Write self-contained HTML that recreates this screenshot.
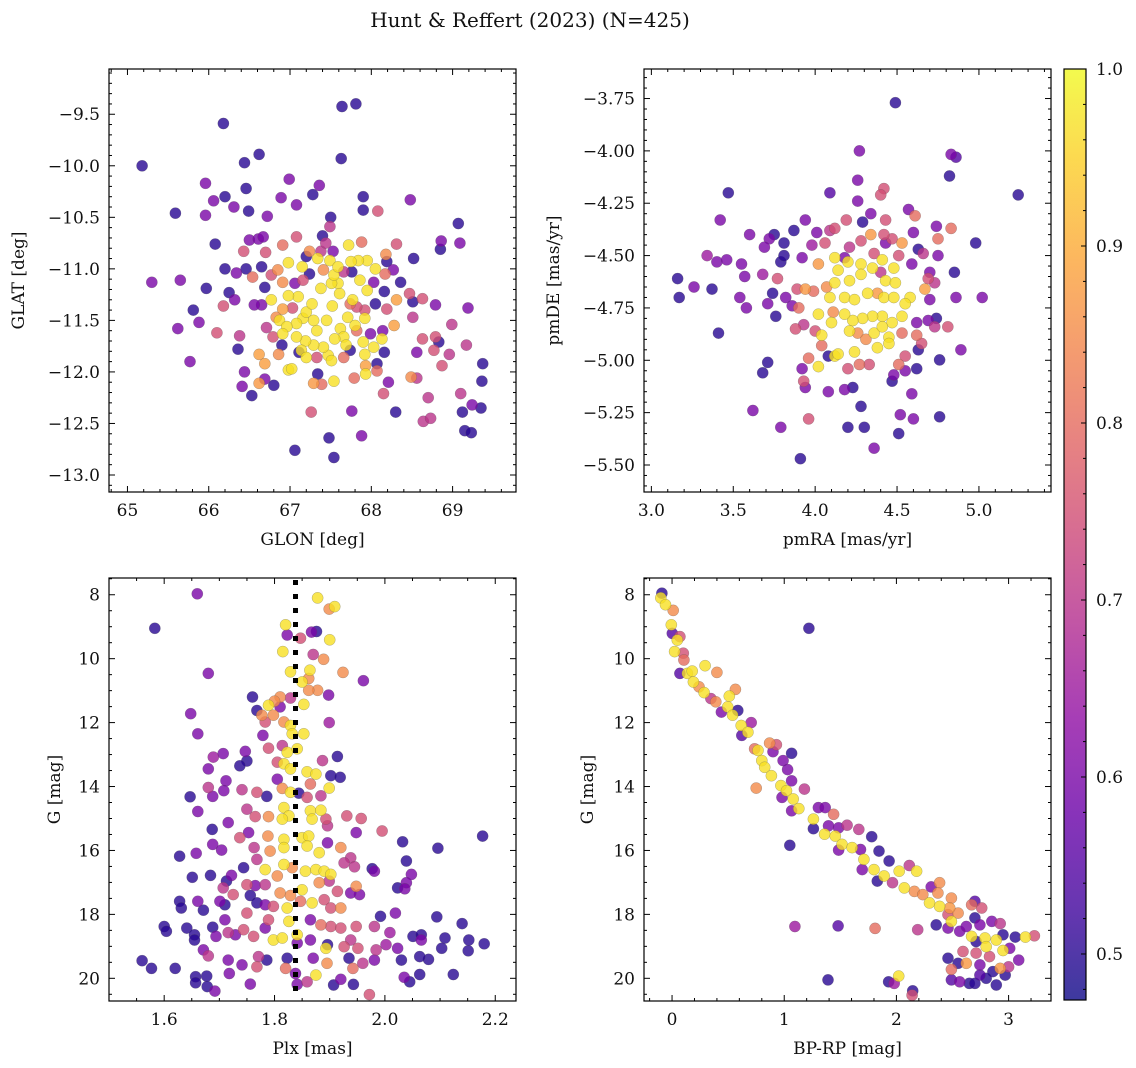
<!DOCTYPE html>
<html><head><meta charset="utf-8"><title>Hunt & Reffert (2023)</title>
<style>
html,body{margin:0;padding:0;background:#fff;}
svg{display:block;font-family:"DejaVu Serif","Liberation Serif",serif;}
</style></head>
<body>
<svg id="fig" width="1136" height="1068" viewBox="0 0 1136 1068" xmlns="http://www.w3.org/2000/svg">
<defs>
<linearGradient id="cgrad" x1="0" y1="1" x2="0" y2="0"></linearGradient>
</defs>
<text x="530" y="27" text-anchor="middle" font-size="20" fill="#111">Hunt &amp; Reffert (2023) (N=425)</text>
</svg>
<script>
// ---------- data (each array: [x, y, membership probability]) ----------
const panel1Points = [
[65.18,-10.00,0.5],[66.18,-9.59,0.5],[67.64,-9.425,0.5],[67.81,-9.40,0.5],[66.44,-9.97,0.5],[66.62,-9.89,0.5],[67.63,-9.93,0.5],
[65.96,-10.17,0.6],[66.99,-10.13,0.6],[67.36,-10.19,0.6],[66.46,-10.22,0.5],[66.20,-10.30,0.5],[66.06,-10.34,0.6],[66.89,-10.31,0.6],
[67.28,-10.28,0.5],[67.90,-10.30,0.5],[68.48,-10.33,0.6],[65.59,-10.46,0.5],[65.96,-10.48,0.6],[66.31,-10.40,0.6],[66.49,-10.44,0.5],
[66.72,-10.49,0.6],[67.08,-10.38,0.6],[67.90,-10.43,0.5],[68.08,-10.44,0.75],[69.07,-10.56,0.5],[67.50,-10.50,0.5],[66.08,-10.76,0.5],
[68.85,-10.81,0.5],[69.09,-10.75,0.6],[68.86,-10.73,0.6],[68.52,-10.90,0.5],[68.31,-10.76,0.75],[67.88,-10.74,0.8],[67.72,-10.77,0.97],
[65.30,-11.13,0.6],[65.65,-11.11,0.6],[65.97,-11.19,0.5],[66.20,-11.00,0.5],[65.81,-11.40,0.5],[65.88,-11.52,0.6],[65.62,-11.58,0.6],
[65.77,-11.90,0.6],[66.10,-11.62,0.75],[66.18,-11.36,0.75],[66.25,-11.23,0.5],[66.32,-11.30,0.6],[66.46,-11.00,0.5],[66.65,-10.98,0.5],
[66.69,-11.18,0.5],[66.43,-10.83,0.75],[66.50,-10.72,0.6],[66.61,-10.71,0.6],[66.70,-10.84,0.75],[66.91,-10.77,0.8],[67.08,-10.69,0.75],
[67.40,-10.68,0.5],[67.49,-10.59,0.7],[66.36,-11.78,0.5],[66.38,-11.65,0.7],[66.44,-12.00,0.6],[66.41,-12.14,0.6],[66.53,-12.23,0.5],
[66.62,-11.83,0.88],[66.69,-11.92,0.88],[66.62,-12.11,0.87],[66.80,-12.13,0.5],[66.69,-12.07,0.6],[66.98,-11.98,0.97],[67.02,-11.97,0.97],
[67.26,-12.39,0.75],[67.06,-12.76,0.5],[67.48,-12.64,0.5],[67.54,-12.83,0.5],[67.76,-12.38,0.6],[67.88,-12.62,0.6],[68.30,-12.39,0.5],
[67.29,-12.11,0.87],[67.39,-12.12,0.8],[67.34,-12.02,0.5],[67.54,-12.09,0.97],[67.79,-12.06,0.8],[67.93,-12.02,0.97],[67.93,-11.94,0.88],
[68.07,-11.99,0.8],[68.15,-12.21,0.75],[68.21,-12.10,0.6],[68.49,-12.05,0.85],[68.56,-12.06,0.7],[68.70,-12.25,0.7],[68.64,-12.48,0.7],
[68.73,-12.45,0.7],[69.10,-12.21,0.7],[69.24,-12.32,0.6],[69.12,-12.39,0.5],[69.35,-12.35,0.5],[69.15,-12.57,0.5],[69.23,-12.59,0.5],
[69.36,-12.09,0.5],[69.37,-11.92,0.5],[69.17,-11.74,0.7],[69.19,-11.38,0.6],[68.96,-11.83,0.7],[68.99,-11.54,0.7],[68.79,-11.35,0.6],
[68.83,-11.71,0.5],[68.79,-11.66,0.75],[68.63,-11.68,0.75],[68.56,-11.81,0.6],[68.77,-11.79,0.75],[68.87,-11.94,0.75],[68.51,-11.47,0.7],
[68.63,-11.29,0.75],[68.51,-11.32,0.5],[68.47,-11.24,0.75],[68.36,-11.13,0.5],[68.31,-11.30,0.88],[68.28,-11.55,0.88],[68.27,-11.01,0.6],
[68.19,-10.93,0.5],[68.18,-10.86,0.85],[68.17,-11.05,0.8],[68.16,-11.22,0.5],[68.19,-11.39,0.75],[68.14,-11.60,0.6],[68.16,-11.81,0.5],
[68.13,-11.68,0.97],[68.03,-11.76,0.97],[68.07,-11.92,0.5],[67.92,-11.83,0.97],[67.90,-11.71,0.97],[68.05,-11.34,0.5],[68.03,-11.13,0.6],
[67.95,-11.21,0.97],[67.86,-11.11,0.97],[68.05,-11.00,0.97],[67.95,-10.92,0.97],[67.84,-10.92,0.97],[67.75,-10.93,0.97],[67.76,-11.03,0.5],
[67.77,-11.30,0.97],[67.92,-11.48,0.97],[67.92,-11.40,0.75],[67.80,-11.55,0.97],[67.71,-11.47,0.97],[67.62,-11.58,0.97],[67.66,-11.66,0.97],
[67.69,-11.74,0.97],[67.55,-11.68,0.97],[67.47,-11.84,0.97],[67.51,-11.89,0.97],[67.41,-11.76,0.97],[67.29,-11.74,0.97],[67.19,-11.70,0.97],
[67.33,-11.60,0.97],[67.45,-11.50,0.97],[67.29,-11.50,0.97],[67.16,-11.48,0.97],[67.08,-11.53,0.97],[67.20,-11.42,0.97],[67.27,-11.34,0.97],
[67.52,-11.36,0.97],[67.61,-11.24,0.97],[67.59,-11.14,0.97],[67.51,-11.14,0.97],[67.54,-11.06,0.97],[67.38,-11.19,0.97],[67.49,-10.92,0.97],
[67.59,-10.98,0.97],[67.34,-10.90,0.97],[67.15,-10.98,0.97],[66.98,-10.94,0.97],[67.10,-11.27,0.97],[66.98,-11.26,0.97],[66.77,-11.30,0.97],
[66.87,-11.50,0.97],[66.96,-11.56,0.97],[66.91,-11.63,0.97],[67.08,-11.66,0.97],[67.14,-11.79,0.97],[67.20,-11.86,0.97],[66.91,-11.39,0.88],
[66.83,-11.47,0.85],[67.03,-11.38,0.75],[66.91,-11.13,0.85],[66.85,-11.01,0.85],[66.77,-11.06,0.75],[66.54,-11.08,0.8],[66.34,-11.04,0.6],
[66.65,-11.35,0.6],[66.56,-11.35,0.6],[66.71,-11.57,0.7],[66.79,-11.66,0.75],[66.86,-11.83,0.85],[66.90,-11.74,0.5],[67.11,-11.81,0.5],
[67.06,-11.14,0.6],[67.24,-11.05,0.5],[67.16,-11.11,0.75],[67.41,-11.01,0.85],[67.38,-10.83,0.7],[67.53,-10.83,0.6],[67.24,-10.83,0.85],
[67.44,-10.75,0.7],[67.20,-10.88,0.5],[67.66,-11.03,0.7],[67.74,-11.34,0.8],[67.82,-11.37,0.75],[67.82,-11.60,0.8],[67.99,-11.63,0.6],
[67.33,-11.86,0.75],[67.66,-11.86,0.8],[67.74,-11.79,0.5],[66.67,-10.69,0.6]
];
const panel2Points = [
[4.49,-3.77,0.5],[4.27,-4.00,0.6],[4.83,-4.017,0.6],[4.86,-4.03,0.55],[4.82,-4.12,0.5],[5.24,-4.21,0.5],[3.47,-4.20,0.5],[4.09,-4.20,0.55],
[4.26,-4.14,0.6],[4.26,-4.24,0.6],[4.42,-4.18,0.75],[4.40,-4.21,0.75],[3.42,-4.33,0.6],[3.94,-4.33,0.6],[4.34,-4.30,0.6],[4.43,-4.33,0.75],
[4.57,-4.28,0.6],[4.61,-4.31,0.8],[3.60,-4.40,0.6],[3.75,-4.40,0.5],[3.72,-4.42,0.6],[3.87,-4.38,0.5],[3.81,-4.44,0.5],[3.69,-4.46,0.6],
[4.01,-4.39,0.6],[4.09,-4.38,0.7],[4.12,-4.37,0.75],[4.19,-4.33,0.75],[4.29,-4.34,0.5],[4.74,-4.36,0.6],[4.83,-4.37,0.8],[4.75,-4.42,0.8],
[4.60,-4.39,0.6],[4.98,-4.44,0.5],[3.34,-4.50,0.65],[3.40,-4.53,0.6],[3.46,-4.52,0.6],[3.16,-4.61,0.5],[3.26,-4.65,0.6],[3.37,-4.66,0.5],
[3.17,-4.70,0.5],[3.55,-4.54,0.6],[3.57,-4.60,0.6],[3.54,-4.70,0.6],[3.58,-4.75,0.6],[3.41,-4.87,0.5],[3.68,-4.59,0.65],[3.77,-4.61,0.75],
[3.79,-4.53,0.5],[3.81,-4.50,0.5],[3.74,-4.68,0.5],[3.71,-4.73,0.6],[3.76,-4.79,0.5],[3.82,-4.70,0.6],[3.86,-4.74,0.6],[3.90,-4.75,0.8],
[3.89,-4.66,0.75],[3.92,-4.51,0.6],[3.98,-4.45,0.65],[4.06,-4.44,0.75],[4.02,-4.54,0.87],[3.88,-4.85,0.75],[3.93,-4.83,0.7],[4.02,-4.78,0.97],
[4.00,-4.86,0.75],[4.04,-4.88,0.97],[4.04,-4.93,0.8],[3.96,-4.99,0.8],[4.02,-5.03,0.97],[3.92,-5.04,0.6],[3.93,-5.10,0.75],[3.94,-5.13,0.6],
[3.71,-5.01,0.5],[3.68,-5.06,0.5],[4.08,-5.15,0.6],[4.18,-5.14,0.6],[4.23,-5.13,0.5],[4.08,-4.98,0.5],[4.12,-4.98,0.97],[4.14,-4.97,0.97],
[4.20,-5.04,0.75],[4.24,-4.96,0.97],[4.27,-5.02,0.8],[4.33,-5.02,0.75],[4.28,-5.22,0.5],[4.20,-5.32,0.5],[4.30,-5.32,0.5],[4.36,-5.42,0.6],
[3.91,-5.47,0.5],[3.79,-5.32,0.6],[3.96,-5.28,0.75],[3.62,-5.24,0.6],[4.51,-5.35,0.5],[4.52,-5.26,0.6],[4.60,-5.28,0.6],[4.76,-5.27,0.5],
[4.59,-5.16,0.6],[4.47,-5.10,0.5],[4.48,-5.07,0.6],[4.55,-5.05,0.6],[4.62,-5.04,0.5],[4.51,-5.02,0.8],[4.55,-4.98,0.75],[4.63,-4.95,0.5],
[4.76,-4.998,0.5],[4.89,-4.95,0.6],[4.81,-4.84,0.75],[4.74,-4.80,0.5],[4.69,-4.81,0.6],[4.73,-4.84,0.7],[4.62,-4.82,0.6],[4.65,-4.92,0.75],
[4.62,-4.88,0.8],[4.86,-4.70,0.6],[5.02,-4.70,0.6],[4.85,-4.58,0.5],[4.75,-4.50,0.6],[4.70,-4.58,0.6],[4.69,-4.61,0.75],[4.73,-4.63,0.7],
[4.67,-4.66,0.88],[4.70,-4.71,0.6],[4.63,-4.47,0.5],[4.66,-4.49,0.7],[4.59,-4.54,0.6],[4.53,-4.44,0.87],[4.51,-4.50,0.75],[4.47,-4.42,0.75],
[4.42,-4.40,0.75],[4.34,-4.40,0.87],[4.36,-4.49,0.75],[4.41,-4.52,0.97],[4.28,-4.43,0.75],[4.21,-4.46,0.7],[4.18,-4.51,0.6],[4.12,-4.51,0.97],
[4.20,-4.53,0.97],[4.28,-4.54,0.97],[4.35,-4.56,0.97],[4.48,-4.56,0.97],[4.14,-4.57,0.97],[4.21,-4.62,0.97],[4.28,-4.59,0.97],[4.43,-4.62,0.97],
[4.49,-4.63,0.97],[4.12,-4.63,0.97],[4.07,-4.65,0.85],[3.99,-4.67,0.8],[3.94,-4.66,0.87],[4.09,-4.70,0.97],[4.18,-4.70,0.97],[4.24,-4.71,0.97],
[4.32,-4.68,0.97],[4.38,-4.68,0.87],[4.42,-4.70,0.97],[4.48,-4.70,0.97],[4.58,-4.70,0.97],[4.55,-4.73,0.97],[4.53,-4.79,0.97],[4.47,-4.82,0.97],
[4.41,-4.79,0.97],[4.35,-4.79,0.97],[4.29,-4.80,0.97],[4.23,-4.81,0.97],[4.18,-4.78,0.97],[4.11,-4.77,0.85],[4.10,-4.82,0.97],[4.21,-4.86,0.97],
[4.26,-4.87,0.85],[4.36,-4.87,0.97],[4.41,-4.84,0.97],[4.45,-4.89,0.97],[4.45,-4.92,0.97],[4.38,-4.94,0.97],[4.31,-4.90,0.85],[4.53,-4.87,0.8],
[4.40,-4.58,0.7],[4.43,-4.44,0.6]
];
const panel3Points = [
[1.66,7.97,0.6],[1.583,9.05,0.5],[1.878,8.10,0.97],[1.909,8.37,0.97],[1.899,8.45,0.85],[1.82,8.94,0.97],[1.823,9.26,0.6],[1.867,9.17,0.6],
[1.876,9.15,0.5],[1.847,9.36,0.75],[1.90,9.41,0.97],[1.815,9.78,0.97],[1.87,9.87,0.7],[1.889,10.02,0.85],[1.924,10.43,0.85],[1.961,10.69,0.6],
[1.68,10.46,0.6],[1.829,10.41,0.97],[1.864,10.36,0.97],[1.862,10.62,0.85],[1.85,10.73,0.97],[1.878,10.99,0.85],[1.862,10.99,0.85],[1.898,11.14,0.6],
[1.76,11.20,0.5],[1.81,11.20,0.85],[1.829,11.23,0.7],[1.80,11.33,0.85],[1.789,11.46,0.97],[1.853,11.43,0.97],[1.768,11.62,0.5],[1.777,11.77,0.85],
[1.798,11.77,0.85],[1.81,11.51,0.6],[1.648,11.72,0.6],[1.817,11.98,0.85],[1.783,11.98,0.75],[1.829,12.09,0.97],[1.899,12.00,0.65],[1.832,12.35,0.97],
[1.853,12.35,0.97],[1.661,12.35,0.6],[1.779,12.40,0.6],[1.789,12.80,0.75],[1.814,12.72,0.7],[1.823,12.93,0.97],[1.841,12.82,0.97],[1.747,12.90,0.6],
[1.707,12.97,0.6],[1.689,13.08,0.65],[1.75,13.20,0.5],[1.737,13.35,0.5],[1.68,13.45,0.6],[1.805,13.24,0.75],[1.817,13.29,0.97],[1.829,13.45,0.97],
[1.859,13.54,0.97],[1.875,13.61,0.97],[1.887,13.19,0.7],[1.914,13.06,0.5],[1.902,13.66,0.5],[1.919,13.71,0.5],[1.865,13.92,0.8],[1.899,14.05,0.97],
[1.805,13.77,0.6],[1.814,14.06,0.85],[1.829,14.18,0.97],[1.844,14.21,0.5],[1.712,13.82,0.6],[1.68,14.03,0.7],[1.708,14.13,0.6],[1.688,14.31,0.6],
[1.647,14.32,0.5],[1.661,14.78,0.6],[1.741,14.10,0.7],[1.768,14.18,0.75],[1.786,14.31,0.5],[1.75,14.71,0.7],[1.765,14.94,0.75],[1.789,14.94,0.85],
[1.859,14.34,0.75],[1.884,14.29,0.7],[1.865,14.76,0.97],[1.884,14.74,0.97],[1.817,14.66,0.97],[1.826,14.92,0.97],[1.814,15.02,0.97],[1.868,15.02,0.97],
[1.893,15.02,0.75],[1.896,15.23,0.7],[1.931,14.92,0.75],[1.957,15.00,0.75],[1.995,15.39,0.75],[1.948,15.44,0.6],[1.716,15.13,0.6],[1.687,15.34,0.5],
[1.753,15.44,0.6],[1.737,15.60,0.75],[1.788,15.55,0.85],[1.817,15.65,0.97],[1.85,15.60,0.97],[1.862,15.55,0.97],[1.817,15.91,0.97],[1.859,15.86,0.97],
[1.881,16.07,0.97],[1.896,15.76,0.6],[1.92,15.91,0.85],[1.792,16.02,0.85],[1.763,15.91,0.7],[1.768,16.28,0.7],[1.688,15.81,0.6],[1.704,15.99,0.6],
[1.658,16.09,0.6],[1.628,16.18,0.5],[2.032,15.73,0.5],[2.039,16.33,0.5],[2.096,15.93,0.5],[2.177,15.55,0.5],[1.938,16.23,0.7],[1.926,16.39,0.7],
[1.945,16.51,0.7],[1.977,16.57,0.5],[1.981,16.65,0.6],[2.048,16.75,0.6],[2.039,17.01,0.6],[2.023,17.17,0.5],[2.036,17.20,0.6],[1.783,16.60,0.97],
[1.817,16.44,0.97],[1.832,16.54,0.85],[1.856,16.65,0.97],[1.875,16.60,0.97],[1.89,16.65,0.97],[1.902,16.75,0.97],[1.805,16.80,0.85],[1.85,17.23,0.97],
[1.881,17.01,0.85],[1.899,16.96,0.7],[1.948,17.12,0.85],[1.954,17.38,0.6],[1.914,17.28,0.75],[1.938,17.33,0.6],[1.744,16.54,0.5],[1.722,16.78,0.6],
[1.713,16.96,0.5],[1.707,17.17,0.7],[1.684,16.78,0.5],[1.651,16.84,0.5],[1.75,17.07,0.75],[1.765,17.10,0.6],[1.783,17.07,0.7],[1.725,17.38,0.75],
[1.756,17.41,0.5],[1.81,17.33,0.85],[1.829,17.41,0.85],[1.847,17.59,0.8],[1.868,17.64,0.97],[1.89,17.54,0.75],[1.902,17.80,0.75],[1.92,17.80,0.85],
[1.628,17.59,0.5],[1.631,17.80,0.5],[1.661,17.59,0.6],[1.671,17.87,0.5],[1.701,17.59,0.6],[1.71,17.70,0.5],[1.768,17.64,0.5],[1.783,17.70,0.6],
[1.798,17.75,0.75],[1.823,17.80,0.97],[1.75,17.96,0.75],[1.789,18.17,0.75],[1.826,18.22,0.97],[1.71,18.17,0.6],[1.865,18.17,0.6],[1.884,18.33,0.8],
[1.902,18.38,0.75],[1.92,18.43,0.75],[1.948,18.38,0.75],[1.981,18.38,0.7],[1.992,18.06,0.5],[2.019,17.96,0.6],[2.094,18.08,0.5],[2.14,18.29,0.5],
[1.60,18.38,0.5],[1.604,18.53,0.5],[1.641,18.43,0.5],[1.655,18.64,0.5],[1.655,18.80,0.5],[1.688,18.40,0.5],[1.694,18.69,0.6],[1.716,18.57,0.7],
[1.729,18.64,0.6],[1.744,18.48,0.75],[1.762,18.69,0.75],[1.783,18.43,0.6],[1.798,18.80,0.97],[1.814,18.74,0.97],[1.841,18.64,0.97],[1.841,18.90,0.6],
[1.865,18.80,0.6],[1.896,18.95,0.5],[1.893,19.06,0.97],[1.926,19.01,0.75],[1.938,18.80,0.7],[1.951,19.06,0.75],[1.984,19.11,0.7],[2.009,18.57,0.65],
[2.002,18.95,0.65],[2.023,19.06,0.6],[2.03,19.43,0.5],[2.051,18.69,0.5],[2.066,18.64,0.5],[2.066,18.80,0.6],[2.109,18.74,0.5],[2.103,19.06,0.5],
[2.152,18.80,0.5],[2.151,19.14,0.5],[2.18,18.92,0.5],[2.079,19.41,0.5],[2.063,19.32,0.5],[2.124,19.88,0.5],[2.063,19.88,0.5],[2.045,20.11,0.5],
[2.035,19.97,0.6],[1.56,19.45,0.5],[1.577,19.69,0.5],[1.62,19.69,0.5],[1.657,19.95,0.5],[1.657,20.14,0.5],[1.677,19.93,0.5],[1.678,20.26,0.5],
[1.692,20.40,0.6],[1.671,19.11,0.6],[1.68,19.30,0.7],[1.716,19.43,0.6],[1.718,19.85,0.6],[1.741,19.58,0.6],[1.756,20.18,0.6],[1.768,19.64,0.75],
[1.771,19.32,0.7],[1.786,19.43,0.5],[1.82,19.69,0.8],[1.823,19.37,0.5],[1.838,19.85,0.6],[1.859,20.11,0.7],[1.875,19.90,0.97],[1.87,19.37,0.6],
[1.895,19.53,0.85],[1.907,20.21,0.5],[1.92,20.03,0.6],[1.942,19.69,0.8],[1.943,20.19,0.5],[1.96,19.53,0.7],[1.981,19.43,0.6],[1.935,19.37,0.5],
[1.972,20.51,0.75],[1.841,20.19,0.6]
];
const panel4Points = [
[-0.09,7.95,0.5],[-0.10,8.10,0.97],[-0.058,8.31,0.97],[0.01,8.49,0.85],[-0.007,8.94,0.97],[0.002,9.21,0.55],[0.047,9.42,0.97],[0.07,9.31,0.75],
[0.023,9.78,0.97],[0.10,9.83,0.75],[0.106,10.04,0.8],[1.22,9.05,0.5],[0.07,10.46,0.55],[0.137,10.46,0.97],[0.18,10.39,0.97],[0.19,10.73,0.97],
[0.295,10.22,0.97],[0.40,10.43,0.85],[0.24,10.88,0.85],[0.286,11.06,0.97],[0.346,11.25,0.7],[0.39,11.35,0.85],[0.51,11.17,0.97],[0.565,10.96,0.85],
[0.44,11.67,0.6],[0.496,11.51,0.97],[0.586,11.62,0.5],[0.54,11.77,0.97],[0.706,12.00,0.65],[0.616,12.09,0.97],[0.676,12.30,0.97],[0.622,12.40,0.55],
[0.87,12.64,0.85],[0.93,12.69,0.75],[0.736,12.82,0.8],[0.766,12.87,0.97],[0.80,13.19,0.97],[0.90,12.91,0.6],[1.066,12.96,0.5],[0.99,13.19,0.6],
[1.03,13.47,0.6],[0.826,13.40,0.97],[0.886,13.66,0.97],[0.75,14.05,0.85],[1.066,13.82,0.6],[0.97,13.97,0.97],[1.02,14.13,0.97],[0.98,14.34,0.6],
[1.18,14.08,0.7],[1.08,14.39,0.97],[1.13,14.69,0.97],[1.066,14.76,0.6],[1.305,14.66,0.6],[1.365,14.66,0.6],[1.44,14.87,0.8],[1.26,15.02,0.97],
[1.26,15.32,0.5],[1.395,15.23,0.6],[1.36,15.49,0.97],[1.455,15.55,0.97],[1.485,15.29,0.6],[1.56,15.21,0.7],[1.665,15.34,0.7],[1.78,15.57,0.5],
[1.05,15.84,0.5],[1.515,15.81,0.97],[1.605,15.91,0.97],[1.485,15.99,0.6],[1.68,15.97,0.6],[1.845,16.02,0.5],[1.935,16.33,0.5],[1.71,16.28,0.97],
[1.80,16.60,0.97],[1.89,16.80,0.97],[1.695,16.60,0.6],[2.025,16.65,0.97],[2.115,16.47,0.7],[2.18,16.65,0.97],[1.83,16.96,0.5],[1.965,17.01,0.7],
[2.07,17.17,0.97],[2.16,17.28,0.85],[2.235,17.38,0.85],[2.31,17.14,0.6],[2.385,17.01,0.85],[2.37,17.33,0.85],[2.295,17.64,0.97],[2.385,17.75,0.97],
[2.475,17.80,0.87],[2.49,17.49,0.85],[2.55,17.96,0.85],[2.46,18.01,0.75],[2.70,17.59,0.55],[2.67,17.70,0.8],[2.76,17.80,0.75],[2.355,18.33,0.5],
[2.49,18.22,0.97],[2.46,18.43,0.6],[2.564,18.53,0.6],[2.623,18.38,0.6],[2.70,18.11,0.5],[2.744,18.33,0.6],[2.85,18.22,0.6],[2.925,18.29,0.7],
[2.95,18.64,0.5],[3.06,18.71,0.5],[3.15,18.71,0.97],[3.23,18.67,0.75],[2.67,18.69,0.97],[2.79,18.74,0.97],[2.89,18.80,0.97],[2.80,19.01,0.97],
[2.71,18.85,0.5],[2.95,19.13,0.97],[3.01,19.06,0.6],[3.09,19.43,0.6],[2.83,19.32,0.75],[2.71,19.21,0.75],[2.594,19.16,0.75],[2.623,19.53,0.87],
[2.46,19.37,0.5],[2.55,19.53,0.5],[2.744,19.58,0.6],[2.925,19.69,0.87],[3.00,19.64,0.7],[2.49,19.72,0.8],[2.86,19.79,0.5],[2.97,19.90,0.5],
[2.49,20.05,0.55],[2.564,20.11,0.6],[2.65,20.16,0.5],[2.70,20.16,0.5],[2.80,20.00,0.5],[2.89,20.21,0.5],[2.744,19.90,0.55],[1.095,18.38,0.65],
[1.48,18.36,0.55],[1.81,18.44,0.8],[2.19,18.48,0.7],[1.39,20.05,0.5],[1.93,20.11,0.5],[2.02,19.93,0.97],[1.98,20.16,0.65],[2.145,20.39,0.5],
[2.14,20.53,0.75]
];
const plxMedian = 1.838;
const xTicks1 = [65,66,67,68,69];
const yTicks1 = [-9.5,-10.0,-10.5,-11.0,-11.5,-12.0,-12.5,-13.0];
const xTicks2 = [3.0,3.5,4.0,4.5,5.0];
const yTicks2 = [-3.75,-4.00,-4.25,-4.50,-4.75,-5.00,-5.25,-5.50];
const xTicks3 = [1.6,1.8,2.0,2.2];
const gTicks = [8,10,12,14,16,18,20];
const xTicks4 = [0,1,2,3];
const cbTicks = [0.5,0.6,0.7,0.8,0.9,1.0];

// ---------- rendering ----------
const svg = document.getElementById('fig');
const NS = 'http://www.w3.org/2000/svg';
const FS = 17;
function mk(tag, attrs, parent){ const e=document.createElementNS(NS,tag); for(const k in attrs) e.setAttribute(k,attrs[k]); (parent||svg).appendChild(e); return e; }
const VMIN=0.474, VMAX=1.0;
const plasma=[[0,[13,8,135]],[0.1,[65,4,157]],[0.2,[106,0,168]],[0.3,[143,13,164]],[0.4,[177,42,144]],[0.5,[204,71,120]],[0.6,[225,100,98]],[0.7,[242,132,75]],[0.8,[252,166,54]],[0.9,[252,206,37]],[1.0,[240,249,33]]];
function cmap(t){ t=Math.max(0,Math.min(1,t)); for(let i=1;i<plasma.length;i++){ if(t<=plasma[i][0]){ const a=plasma[i-1],b=plasma[i],f=(t-a[0])/(b[0]-a[0]); return 'rgb('+a[1].map((v,j)=>Math.round(v+(b[1][j]-v)*f)).join(',')+')'; } } return 'rgb(240,249,33)'; }
const grad=document.getElementById('cgrad');
for(let i=0;i<=20;i++){ const s=document.createElementNS(NS,'stop'); s.setAttribute('offset',(i/20)); s.setAttribute('stop-color',cmap(i/20)); grad.appendChild(s); }

function fmt(v,d){ return (v<0?'\u2212':'')+Math.abs(v).toFixed(d); }

function panel(cfg){
  const g=mk('g',{});
  
  
  const {x0,x1,y0,y1}=cfg.box;
  const sx=v=>x0+(v-cfg.xlim[0])/(cfg.xlim[1]-cfg.xlim[0])*(x1-x0);
  const sy=v=>cfg.yinv ? y0+(v-cfg.ylim[0])/(cfg.ylim[1]-cfg.ylim[0])*(y1-y0) : y1-(v-cfg.ylim[0])/(cfg.ylim[1]-cfg.ylim[0])*(y1-y0);
  const pg=mk('g',{},g);
  
  
  const pts=cfg.data.slice().sort((a,b)=>a[2]-b[2]);
  pts.forEach(p=>{
    const c=mk('circle',{cx:sx(p[0]).toFixed(1),cy:sy(p[1]).toFixed(1),r:5.6,fill:cmap((p[2]-VMIN)/(VMAX-VMIN)),'fill-opacity':0.8,stroke:'#555','stroke-opacity':0.45,'stroke-width':0.5},pg);
    
    
  });
  if(cfg.extra) cfg.extra(g,sx,sy);
  const fr=mk('rect',{x:x0,y:y0,width:x1-x0,height:y1-y0,fill:'none',stroke:'#000','stroke-width':1.2},g);
  
  
  const tk=mk('g',{stroke:'#000','stroke-width':1},g);
  
  
  function xt(v,len){ const X=sx(v); if(X<x0-0.1||X>x1+0.1) return; mk('line',{x1:X,y1:y1,x2:X,y2:y1-len},tk); mk('line',{x1:X,y1:y0,x2:X,y2:y0+len},tk); }
  function yt(v,len){ const Y=sy(v); if(Y<y0-0.1||Y>y1+0.1) return; mk('line',{x1:x0,y1:Y,x2:x0+len,y2:Y},tk); mk('line',{x1:x1,y1:Y,x2:x1-len,y2:Y},tk); }
  const xs=cfg.xTicks[1]-cfg.xTicks[0], ys=cfg.yTicks[1]-cfg.yTicks[0];
  for(let k=-3*cfg.xMinor;k<=(cfg.xTicks.length+3)*cfg.xMinor;k++){ const v=cfg.xTicks[0]+k*xs/cfg.xMinor; xt(v,k%cfg.xMinor===0?6:3); }
  for(let k=-3*cfg.yMinor;k<=(cfg.yTicks.length+3)*cfg.yMinor;k++){ const v=cfg.yTicks[0]+k*ys/cfg.yMinor; yt(v,k%cfg.yMinor===0?6:3); }
  cfg.xTicks.forEach(v=>{ const t=mk('text',{x:sx(v),y:y1+24,'text-anchor':'middle','font-size':FS,fill:'#111'},g); t.textContent=cfg.xfmt(v);
      });
  cfg.yTicks.forEach(v=>{ const t=mk('text',{x:x0-9,y:sy(v)+6,'text-anchor':'end','font-size':FS,fill:'#111'},g); t.textContent=cfg.yfmt(v);
      });
  const xl=mk('text',{x:(x0+x1)/2,y:y1+53,'text-anchor':'middle','font-size':FS,fill:'#111'},g); xl.textContent=cfg.xlabel;
   
  const yl=mk('text',{x:0,y:0,'text-anchor':'middle','font-size':FS,fill:'#111',transform:'translate('+cfg.ylabelX+','+((y0+y1)/2)+') rotate(-90)'},g); yl.textContent=cfg.ylabel;
   
}

panel({name:'glon-glat-panel',box:{x0:109,x1:516,y0:69,y1:492},xlim:[64.773,69.78],ylim:[-13.165,-9.061],data:panel1Points,
  xTicks:xTicks1,yTicks:yTicks1.slice().reverse(),xMinor:5,yMinor:5,xfmt:v=>String(v),yfmt:v=>fmt(v,1),xlabel:'GLON [deg]',ylabel:'GLAT [deg]',ylabelX:24});
panel({name:'proper-motion-panel',box:{x0:644,x1:1051,y0:69,y1:492},xlim:[2.955,5.44],ylim:[-5.629,-3.609],data:panel2Points,
  xTicks:xTicks2,yTicks:yTicks2.slice().reverse(),xMinor:5,yMinor:5,xfmt:v=>v.toFixed(1),yfmt:v=>fmt(v,2),xlabel:'pmRA [mas/yr]',ylabel:'pmDE [mas/yr]',ylabelX:559});
panel({name:'parallax-panel',box:{x0:109,x1:516,y0:578,y1:1001},xlim:[1.5,2.2376],ylim:[7.476,20.71],yinv:true,data:panel3Points,
  xTicks:xTicks3,yTicks:gTicks,xMinor:4,yMinor:4,xfmt:v=>v.toFixed(1),yfmt:v=>String(v),xlabel:'Plx [mas]',ylabel:'G [mag]',ylabelX:60,
  extra:(g,sx,sy)=>{ const l=mk('line',{x1:sx(plxMedian),x2:sx(plxMedian),y1:580,y2:1000,stroke:'#000','stroke-width':5,'stroke-dasharray':'5 9'},g);
      }});
panel({name:'cmd-panel',box:{x0:644,x1:1051,y0:578,y1:1001},xlim:[-0.25,3.378],ylim:[7.476,20.71],yinv:true,data:panel4Points,
  xTicks:xTicks4,yTicks:gTicks,xMinor:5,yMinor:4,xfmt:v=>String(v),yfmt:v=>String(v),xlabel:'BP-RP [mag]',ylabel:'G [mag]',ylabelX:593});

// colorbar
const cb=mk('g',{});


const cbx0=1064,cbx1=1086,cby0=69,cby1=1000;
const cbr=mk('rect',{x:cbx0,y:cby0,width:cbx1-cbx0,height:cby1-cby0,fill:'url(#cgrad)','fill-opacity':0.8,stroke:'#000','stroke-width':1.2},cb);


const cy=v=>cby1-(v-VMIN)/(VMAX-VMIN)*(cby1-cby0);
for(let k=0;k<=30;k++){ const v=0.4+k*0.02; if(v<VMIN-1e-9||v>VMAX+1e-9) continue; const major=Math.abs(v*10-Math.round(v*10))<1e-6;
  mk('line',{x1:cbx1,x2:cbx1-(major?5:3),y1:cy(v),y2:cy(v),stroke:'#000','stroke-width':1},cb); }
cbTicks.forEach(v=>{ const t=mk('text',{x:1096,y:cy(v)+6,'font-size':FS,fill:'#111'},cb); t.textContent=v.toFixed(1);
    });
</script>
</body></html>
